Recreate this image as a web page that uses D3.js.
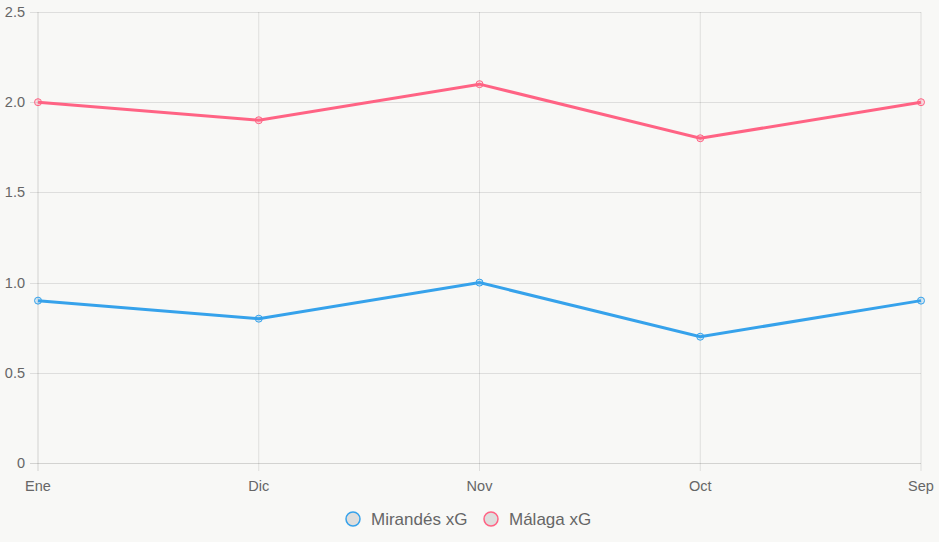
<!DOCTYPE html>
<html>
<head>
<meta charset="utf-8">
<script src="https://cdn.jsdelivr.net/npm/d3@7"></script>
<style>
  body { margin: 0; background: #f8f8f6; }
  svg { display: block; font-family: "Liberation Sans", Arial, sans-serif; }
</style>
</head>
<body>
<script>
// Datos del gráfico
const meses = ["Ene", "Dic", "Nov", "Oct", "Sep"];
const mirandes = [0.9, 0.8, 1.0, 0.7, 0.9];
const malaga = [2.0, 1.9, 2.1, 1.8, 2.0];
const ticksY = [0, 0.5, 1.0, 1.5, 2.0, 2.5];

const WIDTH = 939;
const HEIGHT = 542;
const MARGIN = { top: 12, bottom: 79, left: 38, right: 18 };

const series = [
  { nombre: "Mirandés xG", valores: mirandes, color: "#36a2eb", relleno: "rgba(54,162,235,0.2)" },
  { nombre: "Málaga xG", valores: malaga, color: "#ff6384", relleno: "rgba(255,99,132,0.2)" },
];

const svg = d3.select("body").append("svg")
  .attr("width", WIDTH)
  .attr("height", HEIGHT);

const escalaX = d3.scalePoint()
  .domain(meses)
  .range([MARGIN.left, WIDTH - MARGIN.right]);

const escalaY = d3.scaleLinear()
  .domain([0, 2.5])
  .range([HEIGHT - MARGIN.bottom, MARGIN.top]);

const grid = "rgba(0,0,0,0.1)";

// Rejilla vertical
svg.append("g").selectAll("line")
  .data(meses)
  .join("line")
  .attr("x1", d => escalaX(d)).attr("x2", d => escalaX(d))
  .attr("y1", MARGIN.top).attr("y2", HEIGHT - MARGIN.bottom + 8)
  .attr("stroke", (d, i) => i === 0 ? "rgba(0,0,0,0.15)" : grid);

// Rejilla horizontal
svg.append("g").selectAll("line")
  .data(ticksY)
  .join("line")
  .attr("x1", MARGIN.left - 8).attr("x2", WIDTH - MARGIN.right)
  .attr("y1", d => Math.round(escalaY(d)) + 0.5).attr("y2", d => Math.round(escalaY(d)) + 0.5)
  .attr("stroke", (d, i) => i === 0 ? "rgba(0,0,0,0.15)" : grid);

// Etiquetas eje Y
svg.append("g").selectAll("text")
  .data(ticksY)
  .join("text")
  .attr("x", MARGIN.left - 13)
  .attr("y", d => escalaY(d))
  .attr("dy", "0.35em")
  .attr("text-anchor", "end")
  .attr("font-size", 14.5)
  .attr("fill", "#666")
  .text(d => d === 0 ? "0" : d3.format(".1f")(d));

// Etiquetas eje X
svg.append("g").selectAll("text")
  .data(meses)
  .join("text")
  .attr("x", d => escalaX(d))
  .attr("y", HEIGHT - MARGIN.bottom + 28)
  .attr("text-anchor", "middle")
  .attr("font-size", 14.5)
  .attr("fill", "#666")
  .text(d => d);

const linea = d3.line()
  .x((d, i) => escalaX(meses[i]))
  .y(d => escalaY(d));

series.forEach(s => {
  svg.append("path")
    .datum(s.valores)
    .attr("d", linea)
    .attr("fill", "none")
    .attr("stroke", s.color)
    .attr("stroke-width", 3);

  svg.append("g").selectAll("circle")
    .data(s.valores)
    .join("circle")
    .attr("cx", (d, i) => escalaX(meses[i]))
    .attr("cy", d => escalaY(d))
    .attr("r", 3.5)
    .attr("fill", s.relleno)
    .attr("stroke", s.color)
    .attr("stroke-width", 1);
});

// Leyenda
const leyenda = svg.append("g").attr("transform", `translate(0, ${HEIGHT - 23})`);
const posLeyenda = [353, 491];
series.forEach((s, i) => {
  leyenda.append("circle")
    .attr("cx", posLeyenda[i])
    .attr("cy", 0)
    .attr("r", 7)
    .attr("fill", "rgba(0,0,0,0.1)")
    .attr("stroke", s.color)
    .attr("stroke-width", 1.5);
  leyenda.append("text")
    .attr("x", posLeyenda[i] + 18)
    .attr("y", 0)
    .attr("dy", "0.35em")
    .attr("font-size", 17)
    .attr("fill", "#666")
    .text(s.nombre);
});
</script>
</body>
</html>
